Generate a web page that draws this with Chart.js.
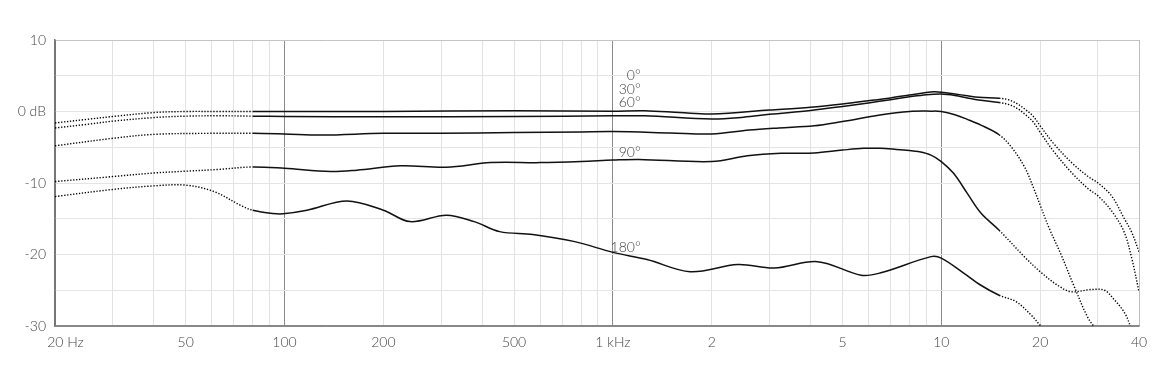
<!DOCTYPE html>
<html><head><meta charset="utf-8">
<script src="https://cdn.jsdelivr.net/npm/chart.js@4.4.1/dist/chart.umd.min.js"></script>
<style>html,body{margin:0;padding:0;background:#fff;overflow:hidden}canvas{display:block}</style>
</head><body>
<canvas id="c" width="1170" height="377"></canvas>
<script>
// ---- Data ----
const xTickValues = [20,30,40,50,60,70,80,90,100,200,300,400,500,600,700,800,900,1000,2000,3000,4000,5000,6000,7000,8000,9000,10000,20000,30000,40000];
const xTickLabels = {20:'\u2003\u200320 Hz',50:'50',100:'100',200:'200',500:'500',1000:'1 kHz',2000:'2',5000:'5',10000:'10',20000:'20',40000:'40'};
const yTickLabels = {10:'10',0:'0 dB','-10':'-10','-20':'-20','-30':'-30'};

const freq0 = [20,25,30,40,50,63,80,200,500,1000,1250,1600,2000,3000,4000,5000,6000,7000,8000,9000,9500,10000,11000,12000,13000,15000,16000,17000,18000,19000,20000,22000,25000,28000,30000,33000,36000,38000,40000];
const db0   = [-1.6,-1.1,-0.7,-0.15,0,0,0,0,0.1,0.05,0.1,-0.15,-0.35,0.2,0.6,1.05,1.5,1.9,2.3,2.65,2.75,2.7,2.45,2.2,2.0,1.85,1.65,1.1,0.3,-0.6,-2.0,-4.5,-7.2,-9.1,-10.0,-11.8,-14.9,-16.9,-19.6];

const freq30 = [20,25,30,40,50,63,80,100,200,500,1000,1250,2000,2500,3000,4000,5000,6000,7000,8000,9000,10000,11000,12000,13000,15000,16000,17000,18000,19000,20000,22000,25000,28000,30000,33000,36000,38000,40000];
const db30   = [-2.3,-1.8,-1.35,-0.85,-0.65,-0.6,-0.65,-0.7,-0.75,-0.7,-0.6,-0.6,-1.05,-0.8,-0.4,0.15,0.7,1.2,1.65,2.05,2.35,2.45,2.25,1.9,1.6,1.25,1.0,0.45,-0.4,-1.4,-2.9,-5.6,-8.6,-10.8,-11.8,-13.9,-16.8,-20.5,-25.2];

const freq60 = [20,30,40,60,80,100,130,200,300,500,800,1000,1500,2000,2600,3200,4100,5000,6500,8000,9300,10000,11000,12000,13200,15000,16300,17900,19100,20000,21300,23200,25300,28000,30000,32000];
const db60   = [-4.8,-3.75,-3.2,-3.05,-3.05,-3.15,-3.3,-3.05,-3.05,-2.95,-2.85,-2.8,-3.0,-3.15,-2.6,-2.3,-2.0,-1.4,-0.5,0,0.05,0,-0.45,-1.1,-1.9,-3.25,-4.9,-7.7,-10.7,-13.1,-16.3,-20.1,-24.3,-28.9,-30.8,-33];

const freq90 = [20,30,40,50,63,80,100,138,166,226,311,424,600,800,1000,1200,2000,2570,3250,4100,5000,5800,6500,7300,8000,8500,9300,10000,10900,12000,13200,15000,17900,20000,22600,24800,28600,31400,33600,36200,38000];
const db90   = [-9.8,-9.1,-8.6,-8.35,-8.1,-7.75,-7.95,-8.4,-8.2,-7.6,-7.8,-7.15,-7.15,-7.0,-6.8,-6.7,-7.0,-6.2,-5.85,-5.8,-5.4,-5.15,-5.15,-5.3,-5.45,-5.6,-6.1,-7.0,-8.65,-11.45,-14.2,-16.6,-20.3,-22.4,-24.3,-25.2,-24.9,-25.0,-26.3,-28.2,-30.5];

const freq180 = [20,30,40,50,61,74,80,92,99,117,155,200,241,311,378,452,570,765,1000,1270,1720,2400,3100,4200,5700,6500,9300,10000,11700,13200,15000,16900,18800,20000,21500];
const db180   = [-11.9,-10.9,-10.4,-10.3,-11.2,-13.2,-13.8,-14.25,-14.3,-13.8,-12.5,-13.8,-15.4,-14.5,-15.4,-16.8,-17.2,-18.2,-19.7,-20.7,-22.4,-21.4,-21.9,-21.0,-22.9,-22.6,-20.3,-20.5,-22.6,-24.3,-25.7,-26.6,-28.5,-29.9,-31.5];

const seriesNames = ['0°','30°','60°','90°','180°'];
// label anchors (Hz, dB) for the angle annotations
const labelFreq = 1215;
const labelDb = [4.4, 2.45, 0.63, -6.36, -19.65];

const DOT_LO = 80, DOT_HI = 15000;
const FONT = "Lato, 'Open Sans', 'DejaVu Sans', sans-serif";

function pts(f, d){ return f.map((x,i)=>({x:x, y:d[i]})); }
const allSeries = [[freq0,db0],[freq30,db30],[freq60,db60],[freq90,db90],[freq180,db180]];

const dotted = ctx => (ctx.p1.parsed.x <= DOT_LO || ctx.p0.parsed.x >= DOT_HI);

const datasets = allSeries.map((s,i)=>({
  label: seriesNames[i],
  data: pts(s[0], s[1]),
  borderColor: '#111',
  borderWidth: 1.5,
  pointRadius: 0,
  fill: false,
  tension: 0.35,
  segment: {
    borderDash: ctx => dotted(ctx) ? [1.3, 1.7] : undefined,
    borderWidth: ctx => dotted(ctx) ? 1.4 : undefined,
    borderColor: ctx => dotted(ctx) ? '#000' : undefined
  }
}));

const labelPlugin = {
  id: 'angleLabels',
  afterDatasetsDraw(chart){
    const {ctx, scales:{x, y}} = chart;
    ctx.save();
    ctx.font = "300 14px " + FONT;
    ctx.fillStyle = '#444';
    ctx.textAlign = 'right';
    ctx.textBaseline = 'alphabetic';
    seriesNames.forEach((n,i)=>{
      ctx.fillText(n, x.getPixelForValue(labelFreq), y.getPixelForValue(labelDb[i]));
    });
    ctx.restore();
  }
};

new Chart(document.getElementById('c'), {
  type: 'line',
  data: { datasets },
  plugins: [labelPlugin],
  options: {
    responsive: false,
    devicePixelRatio: 1,
    animation: false,
    layout: { padding: { top: 40, right: 31, left: 0, bottom: 0 } },
    plugins: { legend: { display: false }, tooltip: { enabled: false } },
    scales: {
      x: {
        type: 'logarithmic',
        min: 20, max: 40000,
        afterBuildTicks: s => { s.ticks = xTickValues.map(v => ({ value: v })); },
        afterFit: s => { s.height = 51; s.paddingLeft = 0; s.paddingRight = 0; },
        grid: {
          drawTicks: false,
          lineWidth: 1,
          color: c => {
            const v = c.tick && c.tick.value;
            if (v === 100 || v === 1000 || v === 10000) return '#8a8a8a';
            if (v === 40000) return '#bdbdbd';
            if (v === 20) return '#777';
            return '#e2e2e2';
          }
        },
        border: { display: true, color: '#888', width: 1.5 },
        ticks: {
          autoSkip: false, maxRotation: 0, minRotation: 0, padding: 8,
          color: '#444', font: { family: FONT, size: 14, weight: '300' },
          callback: v => xTickLabels[v] ?? ''
        }
      },
      y: {
        type: 'linear',
        min: -30, max: 10,
        afterFit: s => { s.width = 55; s.paddingTop = 0; s.paddingBottom = 0; },
        grid: {
          drawTicks: false,
          color: c => {
            const v = c.tick && c.tick.value;
            if (v === 10) return '#c4c4c4';
            if (v === -30) return '#888';
            return '#e4e4e4';
          }
        },
        border: { display: true, color: '#777', width: 1.5 },
        ticks: {
          stepSize: 5, padding: 9,
          color: '#444', font: { family: FONT, size: 14, weight: '300' },
          callback: v => yTickLabels[v] ?? ''
        }
      }
    }
  }
});
</script>
</body></html>
